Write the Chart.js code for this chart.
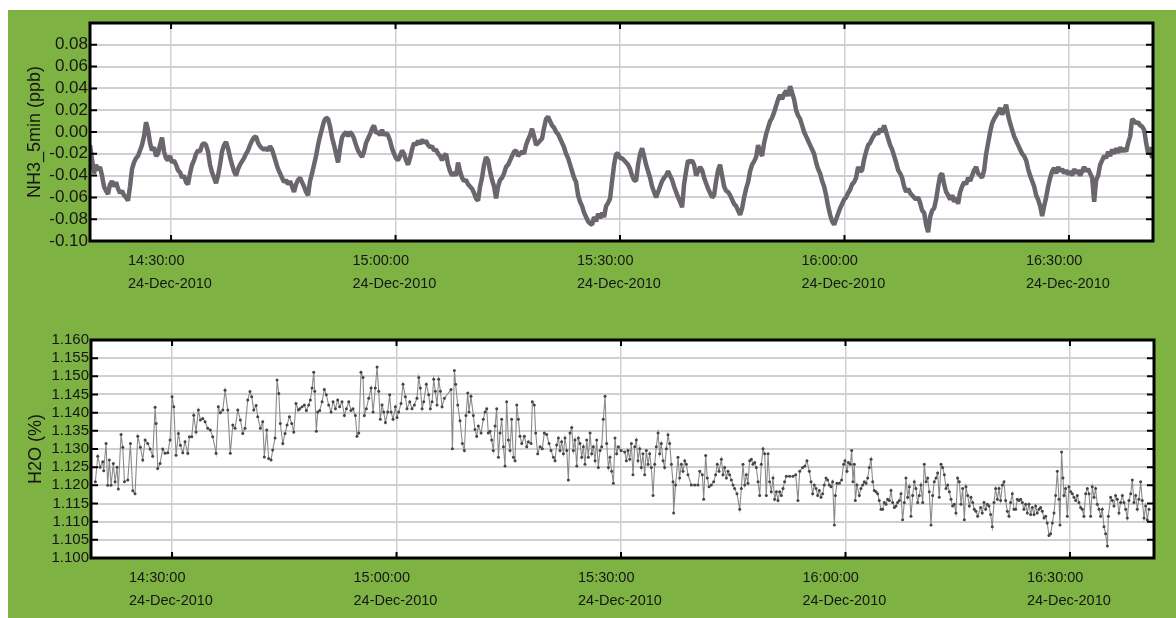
<!DOCTYPE html>
<html>
<head>
<meta charset="utf-8">
<script src="https://cdn.jsdelivr.net/npm/chart.js@4.4.0/dist/chart.umd.min.js"></script>
<style>
  body { margin: 0; background: #fff; }
  #bg { position: absolute; left: 8px; top: 10px; width: 1168px; height: 608px; background: #7eb344; }
  canvas { position: absolute; }
</style>
</head>
<body>
<div id="bg"></div>
<canvas id="nh3Chart" width="1168" height="300" style="left:8px;top:10px"></canvas>
<canvas id="h2oChart" width="1167" height="298" style="left:9px;top:320px"></canvas>
<script>
// time axis: seconds after 14:00:00 on 24-Dec-2010
const X_MIN = 1150;
const X_MAX = 9674;
const timeTickSec = [1800, 3600, 5400, 7200, 9000];
const timeTickLabels = ["14:30:00", "15:00:00", "15:30:00", "16:00:00", "16:30:00"];
const dateLabel = "24-Dec-2010";

const nh3Ticks = [-0.10, -0.08, -0.06, -0.04, -0.02, 0, 0.02, 0.04, 0.06, 0.08, 0.10];
const h2oTicks = [1.100, 1.105, 1.110, 1.115, 1.120, 1.125, 1.130, 1.135, 1.140, 1.145, 1.150, 1.155, 1.160];

// NH3_5min (ppb), one reading every 16.04 s from 14:19:10
const NH3_T0 = 1150;
const NH3_DT = 16.04;
const nh3Values = [
  -0.012,-0.025,-0.038,-0.030,-0.035,-0.032,-0.040,-0.050,-0.054,-0.057,
  -0.048,-0.045,-0.050,-0.046,-0.052,-0.056,-0.054,-0.058,-0.060,-0.063,
  -0.050,-0.034,-0.028,-0.024,-0.022,-0.017,-0.012,-0.004,0.009,0.002,
  -0.010,-0.017,-0.014,-0.022,-0.020,-0.012,-0.005,-0.018,-0.024,-0.026,
  -0.022,-0.028,-0.026,-0.030,-0.035,-0.037,-0.042,-0.040,-0.046,-0.048,
  -0.038,-0.030,-0.026,-0.020,-0.017,-0.018,-0.012,-0.010,-0.012,-0.018,
  -0.030,-0.037,-0.042,-0.047,-0.040,-0.030,-0.018,-0.012,-0.009,-0.015,
  -0.023,-0.030,-0.036,-0.040,-0.034,-0.030,-0.027,-0.024,-0.020,-0.017,
  -0.012,-0.008,-0.005,-0.004,-0.010,-0.013,-0.015,-0.016,
  -0.015,-0.017,-0.013,-0.016,-0.022,-0.028,-0.034,-0.038,-0.042,-0.046,
  -0.044,-0.048,-0.045,-0.050,-0.055,-0.048,-0.044,-0.042,-0.046,-0.050,
  -0.055,-0.058,-0.045,-0.038,-0.030,-0.022,-0.012,-0.004,0.003,0.010,0.013,
  0.012,0.005,-0.005,-0.012,-0.020,-0.028,-0.015,-0.005,-0.002,0.000,
  -0.004,0.000,-0.002,-0.006,-0.012,-0.017,-0.020,-0.023,-0.018,-0.010,
  -0.006,-0.002,0.003,0.006,-0.001,0.000,-0.003,0.002,-0.003,-0.001,
  -0.003,-0.008,-0.015,-0.020,-0.024,-0.026,-0.022,-0.017,-0.020,-0.026,
  -0.030,-0.024,-0.016,-0.010,-0.012,-0.008,-0.011,-0.007,-0.010,-0.008,
  -0.012,-0.014,-0.013,-0.017,-0.016,-0.020,-0.022,-0.026,
  -0.022,-0.020,-0.030,-0.036,-0.040,-0.037,-0.040,-0.028,-0.036,-0.042,
  -0.045,-0.044,-0.048,-0.050,-0.052,-0.056,-0.061,-0.063,-0.050,-0.042,
  -0.030,-0.023,-0.026,-0.036,-0.044,-0.050,-0.061,-0.050,-0.044,-0.042,-0.038,
  -0.032,-0.030,-0.026,-0.022,-0.018,-0.017,-0.022,-0.020,-0.018,-0.020,
  -0.012,-0.007,-0.003,0.003,-0.004,-0.012,-0.010,-0.008,-0.006,0.004,
  0.012,0.014,0.010,0.006,0.004,0.000,-0.002,-0.006,-0.010,-0.014,
  -0.020,-0.024,-0.030,-0.036,-0.042,-0.046,-0.058,-0.064,-0.068,-0.074,
  -0.078,-0.082,-0.084,-0.085,-0.078,-0.082,-0.075,-0.079,-0.074,-0.078,
  -0.068,-0.065,-0.061,-0.045,-0.030,-0.020,-0.020,-0.024,
  -0.024,-0.026,-0.028,-0.030,-0.034,-0.040,-0.044,-0.045,-0.030,-0.020,
  -0.015,-0.022,-0.030,-0.036,-0.042,-0.050,-0.055,-0.060,-0.055,-0.050,
  -0.045,-0.042,-0.040,-0.036,-0.040,-0.044,-0.050,-0.055,-0.060,-0.064,-0.069,
  -0.048,-0.036,-0.026,-0.028,-0.026,-0.030,-0.040,-0.036,-0.032,-0.035,
  -0.042,-0.047,-0.052,-0.056,-0.060,-0.058,-0.045,-0.035,-0.030,-0.040,
  -0.050,-0.054,-0.055,-0.058,-0.062,-0.066,-0.068,-0.072,-0.076,-0.070,
  -0.060,-0.052,-0.046,-0.036,-0.030,-0.027,-0.023,-0.012,-0.018,-0.022,
  -0.010,-0.002,0.004,0.010,0.013,0.018,0.024,0.030,0.034,0.030,
  0.035,0.038,0.033,0.042,0.036,0.030,0.020,0.015,
  0.012,0.006,0.000,-0.004,-0.008,-0.012,-0.016,-0.020,-0.028,-0.034,
  -0.038,-0.045,-0.050,-0.058,-0.068,-0.076,-0.082,-0.085,-0.080,-0.075,
  -0.070,-0.066,-0.062,-0.060,-0.056,-0.053,-0.048,-0.046,-0.042,-0.032,-0.036,
  -0.035,-0.025,-0.018,-0.012,-0.010,-0.006,-0.003,0.000,-0.002,0.003,
  0.000,0.006,0.000,-0.006,-0.012,-0.016,-0.022,-0.028,-0.035,-0.038,
  -0.042,-0.050,-0.055,-0.052,-0.056,-0.058,-0.060,-0.062,-0.060,-0.065,
  -0.072,-0.074,-0.085,-0.092,-0.078,-0.072,-0.070,-0.062,-0.050,-0.040,
  -0.038,-0.048,-0.055,-0.058,-0.062,-0.058,-0.064,-0.060,-0.066,-0.055,
  -0.050,-0.046,-0.048,-0.042,-0.045,-0.040,-0.035,-0.032,
  -0.038,-0.040,-0.042,-0.035,-0.020,-0.010,0.000,0.008,0.012,0.015,
  0.018,0.022,0.016,0.020,0.025,0.015,0.008,0.002,-0.004,-0.008,
  -0.012,-0.016,-0.020,-0.022,-0.026,-0.034,-0.040,-0.045,-0.050,-0.058,-0.062,
  -0.068,-0.077,-0.068,-0.060,-0.050,-0.042,-0.036,-0.033,-0.038,-0.032,
  -0.036,-0.034,-0.038,-0.035,-0.039,-0.036,-0.040,-0.034,-0.038,-0.035,
  -0.040,-0.036,-0.032,-0.036,-0.034,-0.038,-0.042,-0.064,-0.044,-0.040,
  -0.030,-0.026,-0.022,-0.024,-0.018,-0.022,-0.016,-0.020,-0.015,-0.019,
  -0.014,-0.018,-0.015,-0.018,-0.010,-0.004,0.012,0.010,0.008,0.009,
  0.006,0.005,0.002,-0.010,-0.020,-0.014,-0.024
];

// H2O (%) readings: [seconds after 14:00, value]
const h2oReadings = [
  [1185,1.1210],[1204,1.1280],[1223,1.1250],[1244,1.1265],[1252,1.1240],[1271,1.1315],[1284,1.1200],[1297,1.1270],[1311,1.1200],[1329,1.1260],
  [1343,1.1210],[1359,1.1250],[1369,1.1190],[1391,1.1340],[1405,1.1305],[1418,1.1210],[1445,1.1215],[1466,1.1315],[1485,1.1185],[1503,1.1177],
  [1525,1.1335],[1546,1.1305],[1565,1.1270],[1584,1.1325],[1605,1.1315],[1624,1.1300],[1645,1.1280],[1664,1.1415],[1672,1.1370],[1685,1.1246],
  [1704,1.1260],[1725,1.1300],[1744,1.1288],[1766,1.1290],[1784,1.1325],[1800,1.1444],[1814,1.1416],[1832,1.1283],[1851,1.1343],[1867,1.1310],
  [1886,1.1290],[1904,1.1320],[1926,1.1288],[1939,1.1334],[1958,1.1334],[1974,1.1393],[1992,1.1347],[2011,1.1407],[2027,1.1380],[2046,1.1384],
  [2065,1.1375],[2086,1.1357],[2107,1.1352],[2126,1.1334],[2153,1.1288],[2171,1.1416],[2187,1.1400],[2207,1.1407],[2225,1.1462],[2247,1.1407],
  [2267,1.1288],[2287,1.1366],[2305,1.1357],[2327,1.1407],[2348,1.1380],[2367,1.1343],[2385,1.1357],[2407,1.1435],[2425,1.1458],[2439,1.1444],
  [2455,1.1407],[2474,1.1420],[2487,1.1389],[2508,1.1357],[2527,1.1375],[2540,1.1278],[2559,1.1352],[2575,1.1274],[2594,1.1270],[2607,1.1297],
  [2626,1.1330],[2642,1.1490],[2656,1.1453],[2668,1.1370],[2688,1.1315],[2706,1.1343],[2722,1.1366],[2741,1.1389],[2760,1.1370],[2776,1.1347],
  [2794,1.1425],[2813,1.1407],
  [2824,1.1411],[2842,1.1416],[2861,1.1421],[2877,1.1406],[2896,1.1421],[2909,1.1435],[2923,1.1468],[2936,1.1511],[2944,1.1459],[2957,1.1349],
  [2968,1.1402],[2984,1.1406],[3003,1.1430],[3021,1.1464],[3037,1.1449],[3056,1.1421],[3075,1.1402],[3091,1.1430],[3110,1.1411],[3128,1.1435],
  [3144,1.1416],[3163,1.1430],[3182,1.1392],[3198,1.1411],[3217,1.1430],[3235,1.1406],[3251,1.1411],[3270,1.1392],[3283,1.1335],[3297,1.1344],
  [3315,1.1511],[3331,1.1497],[3342,1.1392],[3358,1.1411],[3377,1.1440],[3396,1.1468],[3412,1.1402],[3430,1.1468],[3444,1.1526],[3457,1.1459],
  [3470,1.1382],[3484,1.1421],[3497,1.1402],[3511,1.1373],[3529,1.1402],[3545,1.1449],[3556,1.1402],[3572,1.1382],[3591,1.1416],[3604,1.1387],
  [3617,1.1402],[3636,1.1425],[3652,1.1478],[3671,1.1444],[3684,1.1411],[3706,1.1430],[3724,1.1411],[3743,1.1421],[3764,1.1440],[3778,1.1497],
  [3791,1.1468],[3805,1.1411],[3818,1.1430],[3839,1.1478],[3858,1.1449],[3871,1.1411],[3885,1.1430],[3898,1.1492],[3911,1.1459],[3925,1.1421],
  [3938,1.1492],[3952,1.1459],[3965,1.1416],[3984,1.1440],
  [4037,1.1464],[4048,1.1301],[4064,1.1516],[4074,1.1478],[4091,1.1421],[4109,1.1378],[4128,1.1315],[4144,1.1296],[4157,1.1392],[4171,1.1454],
  [4181,1.1402],[4197,1.1445],[4216,1.1392],[4229,1.1354],[4243,1.1335],[4256,1.1363],[4278,1.1344],[4296,1.1382],[4310,1.1402],[4323,1.1411],
  [4336,1.1344],[4350,1.1349],[4363,1.1325],[4376,1.1296],[4390,1.1363],[4403,1.1411],[4417,1.1277],[4430,1.1344],[4443,1.1382],[4457,1.1306],
  [4470,1.1253],[4483,1.1430],[4497,1.1325],[4510,1.1296],[4523,1.1382],[4537,1.1277],[4550,1.1268],[4564,1.1421],[4577,1.1382],[4590,1.1335],
  [4604,1.1315],[4625,1.1335],[4644,1.1306],[4657,1.1320],[4679,1.1315],[4689,1.1430],[4705,1.1421],[4716,1.1344],[4732,1.1287],[4751,1.1306],
  [4769,1.1301],[4785,1.1344],[4804,1.1340],[4823,1.1315],[4839,1.1296],[4858,1.1277],[4871,1.1268],[4884,1.1311],[4898,1.1330],[4911,1.1296],
  [4924,1.1320],[4938,1.1287],[4951,1.1330],[4965,1.1296],[4978,1.1215],[4991,1.1344],[5005,1.1359],[5018,1.1296],[5031,1.1325],[5045,1.1253],
  [5058,1.1330],[5071,1.1315],[5085,1.1277],[5098,1.1306],[5111,1.1258],[5125,1.1325],[5138,1.1277],[5152,1.1344],[5165,1.1287],[5178,1.1306],
  [5192,1.1268],[5205,1.1325],[5218,1.1249],[5232,1.1296],[5245,1.1306],[5258,1.1382],[5272,1.1445],[5285,1.1315],[5299,1.1249],[5312,1.1277],
  [5325,1.1239],[5339,1.1206],[5352,1.1330],[5365,1.1287],[5379,1.1306],[5400,1.1296],
  [5430,1.1292],[5443,1.1268],[5456,1.1296],[5470,1.1272],[5483,1.1315],[5496,1.1229],[5510,1.1306],[5523,1.1325],[5536,1.1268],[5550,1.1301],
  [5563,1.1249],[5576,1.1287],[5590,1.1229],[5603,1.1296],[5617,1.1258],[5630,1.1287],[5643,1.1249],[5657,1.1172],[5670,1.1258],[5683,1.1306],
  [5697,1.1344],[5710,1.1287],[5723,1.1315],[5737,1.1268],[5750,1.1249],[5764,1.1301],[5777,1.1339],[5790,1.1315],[5804,1.1258],[5817,1.1210],
  [5822,1.1124],[5838,1.1201],[5857,1.1277],[5870,1.1220],[5884,1.1258],[5897,1.1239],[5911,1.1268],[5924,1.1258],[5937,1.1229],[5964,1.1201],
  [5991,1.1201],[6017,1.1201],[6031,1.1239],[6052,1.1229],[6063,1.1162],[6079,1.1282],[6092,1.1220],[6106,1.1196],[6124,1.1201],[6143,1.1210],
  [6159,1.1229],[6172,1.1258],[6186,1.1239],[6205,1.1272],[6218,1.1229],[6231,1.1249],[6245,1.1220],[6258,1.1239],[6271,1.1229],[6285,1.1215],
  [6298,1.1201],[6311,1.1191],[6330,1.1177],[6352,1.1134],[6365,1.1191],[6378,1.1258],[6392,1.1201],[6405,1.1229],[6418,1.1206],[6432,1.1268],
  [6445,1.1272],[6458,1.1258],[6472,1.1263],[6485,1.1249],[6499,1.1210],[6512,1.1172],[6525,1.1258],[6539,1.1301],[6552,1.1287],[6565,1.1172],
  [6579,1.1287],[6592,1.1210],[6605,1.1182],[6619,1.1220],[6632,1.1162],[6646,1.1182],[6659,1.1158],[6672,1.1182],[6686,1.1172],[6699,1.1191],
  [6712,1.1210],[6726,1.1225],[6752,1.1225],[6779,1.1225],[6801,1.1229],[6819,1.1158],[6833,1.1239],
  [6857,1.1249],[6875,1.1253],[6891,1.1268],[6910,1.1239],[6924,1.1210],[6937,1.1177],[6950,1.1201],[6964,1.1191],[6977,1.1172],[6990,1.1186],
  [7004,1.1167],[7017,1.1177],[7030,1.1201],[7044,1.1220],[7057,1.1215],[7071,1.1201],[7084,1.1196],[7097,1.1210],[7111,1.1091],[7119,1.1172],
  [7132,1.1206],[7151,1.1206],[7169,1.1215],[7185,1.1258],[7196,1.1268],[7212,1.1239],[7223,1.1263],[7239,1.1258],[7250,1.1296],[7260,1.1210],
  [7271,1.1258],[7279,1.1158],[7292,1.1201],[7311,1.1172],[7324,1.1191],[7338,1.1201],[7351,1.1210],[7365,1.1206],[7378,1.1220],[7391,1.1249],
  [7405,1.1272],[7418,1.1210],[7431,1.1186],[7445,1.1182],[7458,1.1177],[7471,1.1158],[7485,1.1134],[7498,1.1134],[7511,1.1153],[7525,1.1148],
  [7538,1.1162],[7552,1.1158],[7565,1.1186],[7578,1.1153],[7592,1.1139],[7605,1.1143],[7618,1.1153],[7632,1.1158],[7645,1.1177],[7658,1.1105],
  [7672,1.1153],[7685,1.1220],[7699,1.1167],[7712,1.1196],[7725,1.1115],[7739,1.1172],[7752,1.1210],[7765,1.1191],[7779,1.1153],[7792,1.1172],
  [7805,1.1201],[7819,1.1153],[7832,1.1258],[7846,1.1210],[7859,1.1220],[7872,1.1182],[7886,1.1091],[7899,1.1172],[7912,1.1210],[7926,1.1220],
  [7939,1.1234],[7952,1.1167],[7966,1.1258],[7979,1.1249],[7993,1.1229],[8006,1.1191],[8019,1.1201],[8033,1.1182],[8046,1.1162],[8059,1.1143],
  [8073,1.1148],[8086,1.1124],[8099,1.1220],[8113,1.1210],[8126,1.1148],[8140,1.1191],[8153,1.1105],[8166,1.1196],[8180,1.1172],[8193,1.1143],
  [8206,1.1167],[8220,1.1153],[8233,1.1134],[8246,1.1129],[8260,1.1115],
  [8284,1.1139],[8297,1.1124],[8311,1.1153],[8324,1.1134],[8337,1.1148],[8351,1.1143],[8364,1.1120],[8377,1.1086],[8391,1.1153],[8404,1.1191],
  [8418,1.1162],[8431,1.1191],[8444,1.1158],[8458,1.1201],[8471,1.1210],[8484,1.1158],[8498,1.1129],[8511,1.1115],[8524,1.1153],[8538,1.1177],
  [8551,1.1134],[8565,1.1134],[8578,1.1162],[8591,1.1158],[8605,1.1162],[8618,1.1153],[8631,1.1134],[8645,1.1148],[8658,1.1124],[8671,1.1148],
  [8685,1.1120],[8698,1.1139],[8712,1.1120],[8725,1.1143],[8738,1.1124],[8752,1.1134],[8765,1.1139],[8778,1.1129],[8792,1.1110],[8805,1.1115],
  [8818,1.1096],[8832,1.1062],[8845,1.1067],[8859,1.1096],[8872,1.1124],[8885,1.1172],[8899,1.1239],[8912,1.1162],[8920,1.1091],[8933,1.1292],
  [8944,1.1220],[8952,1.1172],[8965,1.1191],[8979,1.1115],[8992,1.1196],[9006,1.1182],[9019,1.1177],[9032,1.1167],[9046,1.1158],[9059,1.1172],
  [9072,1.1153],[9086,1.1139],[9099,1.1134],[9112,1.1115],[9126,1.1177],[9139,1.1191],[9153,1.1177],[9166,1.1115],[9179,1.1196],[9193,1.1167],
  [9206,1.1191],[9219,1.1148],[9233,1.1134],[9246,1.1115],[9259,1.1134],[9273,1.1086],[9286,1.1067],[9300,1.1033],[9308,1.1115],[9326,1.1167],
  [9340,1.1158],[9353,1.1143],[9366,1.1172],[9380,1.1162],[9393,1.1124],[9406,1.1153],[9420,1.1172],[9433,1.1153],[9447,1.1134],[9460,1.1110],
  [9473,1.1158],[9487,1.1177],[9500,1.1215],[9513,1.1153],[9527,1.1172],[9540,1.1134],[9553,1.1162],[9567,1.1210],[9580,1.1158],[9594,1.1110],
  [9607,1.1143],[9620,1.1105],[9634,1.1134]
];

const FONT = "'Liberation Sans', Arial, sans-serif";
const TEXT = "#161616";

// white plot area, black frame and inward tick marks
const framePlugin = {
  id: "frame",
  beforeDraw(chart) {
    const { ctx, chartArea: a } = chart;
    ctx.save();
    ctx.fillStyle = "#fff";
    ctx.fillRect(a.left, a.top, a.right - a.left, a.bottom - a.top);
    ctx.restore();
  },
  afterDraw(chart) {
    const { ctx, chartArea: a, scales } = chart;
    ctx.save();
    ctx.strokeStyle = "#000";
    ctx.lineWidth = 2;
    ctx.beginPath();
    scales.y.ticks.forEach((t) => {
      const py = scales.y.getPixelForValue(t.value);
      if (py < a.top + 2 || py > a.bottom - 2) return;
      ctx.moveTo(a.left, py); ctx.lineTo(a.left + 7, py);
      ctx.moveTo(a.right, py); ctx.lineTo(a.right - 7, py);
    });
    scales.x.ticks.forEach((t) => {
      const px = scales.x.getPixelForValue(t.value);
      ctx.moveTo(px, a.top); ctx.lineTo(px, a.top + 6);
      ctx.moveTo(px, a.bottom); ctx.lineTo(px, a.bottom - 6);
    });
    ctx.stroke();
    ctx.lineWidth = 3;
    ctx.strokeRect(a.left, a.top, a.right - a.left, a.bottom - a.top);
    ctx.restore();
  },
};

function makeChart(id, cfg) {
  return new Chart(document.getElementById(id), {
    type: "line",
    data: { datasets: [cfg.dataset] },
    plugins: [framePlugin],
    options: {
      responsive: false,
      animation: false,
      devicePixelRatio: 1,
      layout: { padding: { top: cfg.padTop, right: cfg.padRight, left: 0, bottom: 0 } },
      plugins: { legend: { display: false }, tooltip: { enabled: false } },
      scales: {
        x: {
          type: "linear",
          min: X_MIN,
          max: X_MAX,
          afterBuildTicks: (s) => { s.ticks = timeTickSec.map((v) => ({ value: v })); },
          afterFit: (s) => { s.height = cfg.xHeight; },
          border: { display: false },
          grid: { color: "#d0d0d0", lineWidth: 1.5, drawTicks: false },
          ticks: {
            autoSkip: false,
            maxRotation: 0,
            align: "start",
            labelOffset: -43,
            padding: cfg.xPad,
            color: TEXT,
            font: { family: FONT, size: 14.5, lineHeight: 1.6 },
            callback: (v, i) => [timeTickLabels[i], dateLabel],
          },
        },
        y: {
          min: cfg.yTicks[0],
          max: cfg.yTicks[cfg.yTicks.length - 1],
          afterBuildTicks: (s) => { s.ticks = cfg.yTicks.map((v) => ({ value: v })); },
          afterFit: (s) => { s.width = cfg.yWidth; },
          border: { display: false },
          grid: { color: "#d0d0d0", lineWidth: 2, drawTicks: false },
          title: {
            display: true,
            text: cfg.title,
            color: TEXT,
            font: { family: FONT, size: 18 },
            padding: { top: 16, bottom: 0 },
          },
          ticks: {
            autoSkip: false,
            padding: 2,
            color: TEXT,
            font: { family: FONT, size: cfg.yFont },
            callback: cfg.yLabel,
          },
        },
      },
    },
  });
}

makeChart("nh3Chart", {
  padTop: 13, padRight: 23, xHeight: 69, xPad: 8, yWidth: 82, yFont: 17,
  yTicks: nh3Ticks,
  title: "NH3_5min (ppb)",
  yLabel: (v) => (v > 0.095 ? "" : v.toFixed(2)),
  dataset: {
    data: nh3Values.map((v, i) => ({ x: NH3_T0 + i * NH3_DT, y: v })),
    borderColor: "#6b666e",
    borderWidth: 4.5,
    borderJoinStyle: "bevel",
    pointRadius: 0,
    tension: 0,
  },
});

makeChart("h2oChart", {
  padTop: 20, padRight: 22, xHeight: 60, xPad: 8.5, yWidth: 82, yFont: 15,
  yTicks: h2oTicks,
  title: "H2O (%)",
  yLabel: (v) => v.toFixed(3),
  dataset: {
    data: h2oReadings.map(([t, v]) => ({ x: t, y: v })),
    borderColor: "#8a8a8a",
    borderWidth: 1.1,
    pointRadius: 1.5,
    pointBackgroundColor: "#454545",
    pointBorderWidth: 0,
    tension: 0,
  },
});
</script>
</body>
</html>
